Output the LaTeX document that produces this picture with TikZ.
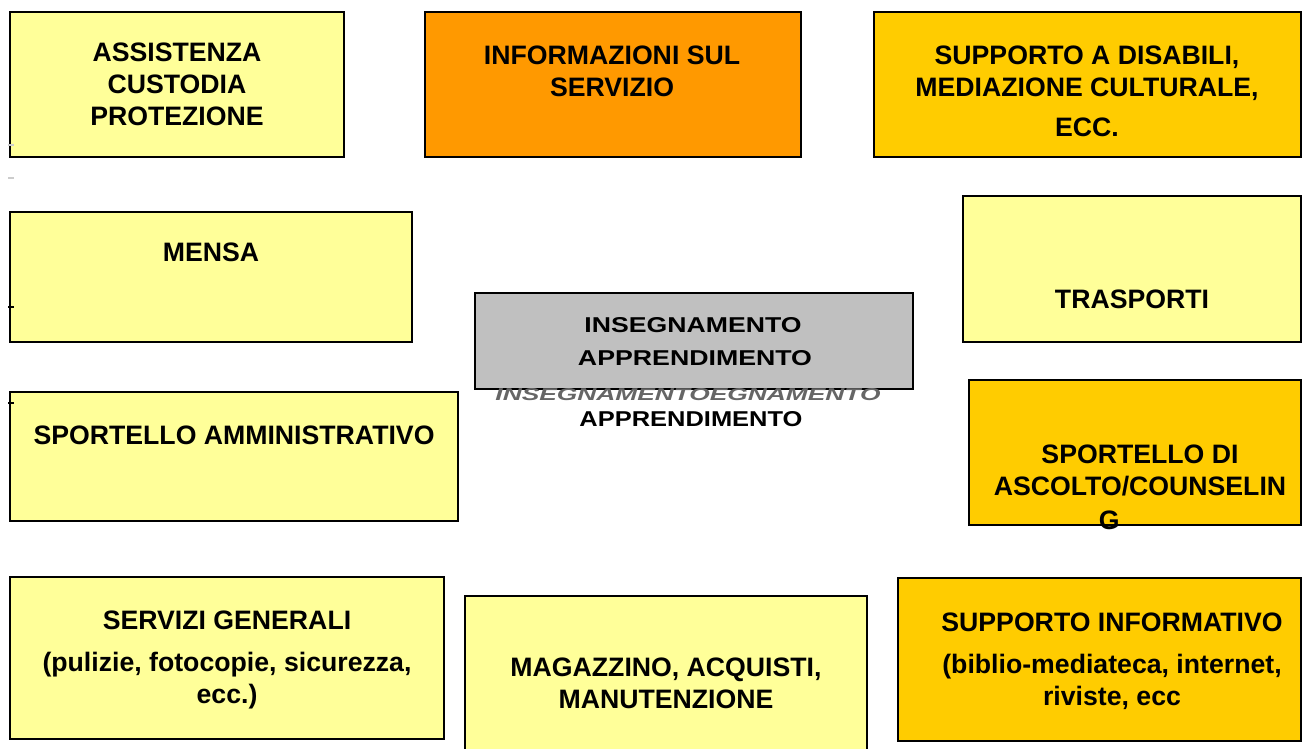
\documentclass[tikz,border=0pt]{standalone}
\usepackage{fontspec}
\setmainfont{Liberation Sans}
\usepackage{graphicx}
\usetikzlibrary{fit}
\definecolor{lyellow}{HTML}{FFFF99}
\definecolor{orangebox}{HTML}{FF9900}
\definecolor{goldbox}{HTML}{FFCC00}
\definecolor{graybox}{HTML}{C0C0C0}
\begin{document}
\begin{tikzpicture}[x=0.75pt,y=-0.75pt,
  box/.style={draw=black, line width=1.5pt, inner sep=0pt, rectangle},
  lbl/.style={font=\bfseries\fontsize{20}{24}\selectfont, align=center, inner sep=0pt, anchor=north, text=black},
  clbl/.style={inner sep=0pt, anchor=north, text=black},
  tick/.style={line width=1.2pt}
]
\clip (0,0) rectangle (1303,749);
\fill[white] (0,0) rectangle (1303,749);

% boxes
\node[box, fill=lyellow, fit={(10,12) (344,157)}] (b1) {};
\node[box, fill=orangebox, fit={(425,12) (801,157)}] (b2) {};
\node[box, fill=goldbox, fit={(874,12) (1301,157)}] (b3) {};
\node[box, fill=lyellow, fit={(10,212) (412,342)}] (b4) {};
\node[box, fill=lyellow, fit={(963,196) (1301,342)}] (b5) {};
\node[box, fill=graybox, fit={(475,293) (913,389)}] (b6) {};
\node[box, fill=lyellow, fit={(10,392) (458,521)}] (b7) {};
\node[box, fill=goldbox, fit={(969,380) (1301,525)}] (b8) {};
\node[box, fill=lyellow, fit={(10,577) (444,739)}] (b9) {};
\node[box, fill=lyellow, fit={(465,596) (867,752)}] (b10) {};
\node[box, fill=goldbox, fit={(898,578) (1301,741)}] (b11) {};

% labels
\node[lbl] (t1) at (177,43) {ASSISTENZA\\CUSTODIA\\PROTEZIONE};
\node[lbl] (t2) at (612,46) {INFORMAZIONI SUL\\SERVIZIO};
\node[lbl] (t3) at (1087,46) {SUPPORTO A DISABILI,\\MEDIAZIONE CULTURALE,\\[6pt]ECC.};
\node[lbl] (t4) at (211,243) {MENSA};
\node[lbl] (t5) at (1132,290) {TRASPORTI};
\node[clbl] (t6a) at (693,317) {\resizebox{162.75pt}{11.25pt}{\bfseries INSEGNAMENTO}};
\node[clbl] (t6b) at (695,350) {\resizebox{175.5pt}{11.25pt}{\bfseries APPRENDIMENTO}};
\node[clbl, text=black!60] (t6c) at (688,388) {\resizebox{288.75pt}{9pt}{\bfseries\itshape INSEGNAMENTOEGNAMENTO}};
\node[clbl] (t6d) at (691,411) {\resizebox{167.25pt}{11.25pt}{\bfseries APPRENDIMENTO}};
\node[lbl] (t7) at (234,426) {SPORTELLO AMMINISTRATIVO};
\node[lbl] (t8) at (1140,445) {SPORTELLO DI\\ASCOLTO/COUNSELIN\\[1pt]G\hspace*{46pt}};
\node[lbl] (t9) at (227,611) {SERVIZI GENERALI\\[7pt](pulizie, fotocopie, sicurezza,\\ecc.)};
\node[lbl] (t10) at (666,658) {MAGAZZINO, ACQUISTI,\\MANUTENZIONE};
\node[lbl] (t11) at (1112,613) {SUPPORTO INFORMATIVO\\[7pt](biblio-mediateca, internet,\\riviste, ecc};

% small marks at left edge
\coordinate (m1a) at (8,145); \coordinate (m1b) at (14,145);
\coordinate (m2a) at (8,178); \coordinate (m2b) at (14,178);
\coordinate (m3a) at (8,307); \coordinate (m3b) at (14,307);
\coordinate (m4a) at (8,403); \coordinate (m4b) at (14,403);
\draw[tick, black!20] (m1a) -- (m1b);
\draw[tick, black!20] (m2a) -- (m2b);
\draw[tick, black] (m3a) -- (m3b);
\draw[tick, black] (m4a) -- (m4b);
\end{tikzpicture}
\end{document}
